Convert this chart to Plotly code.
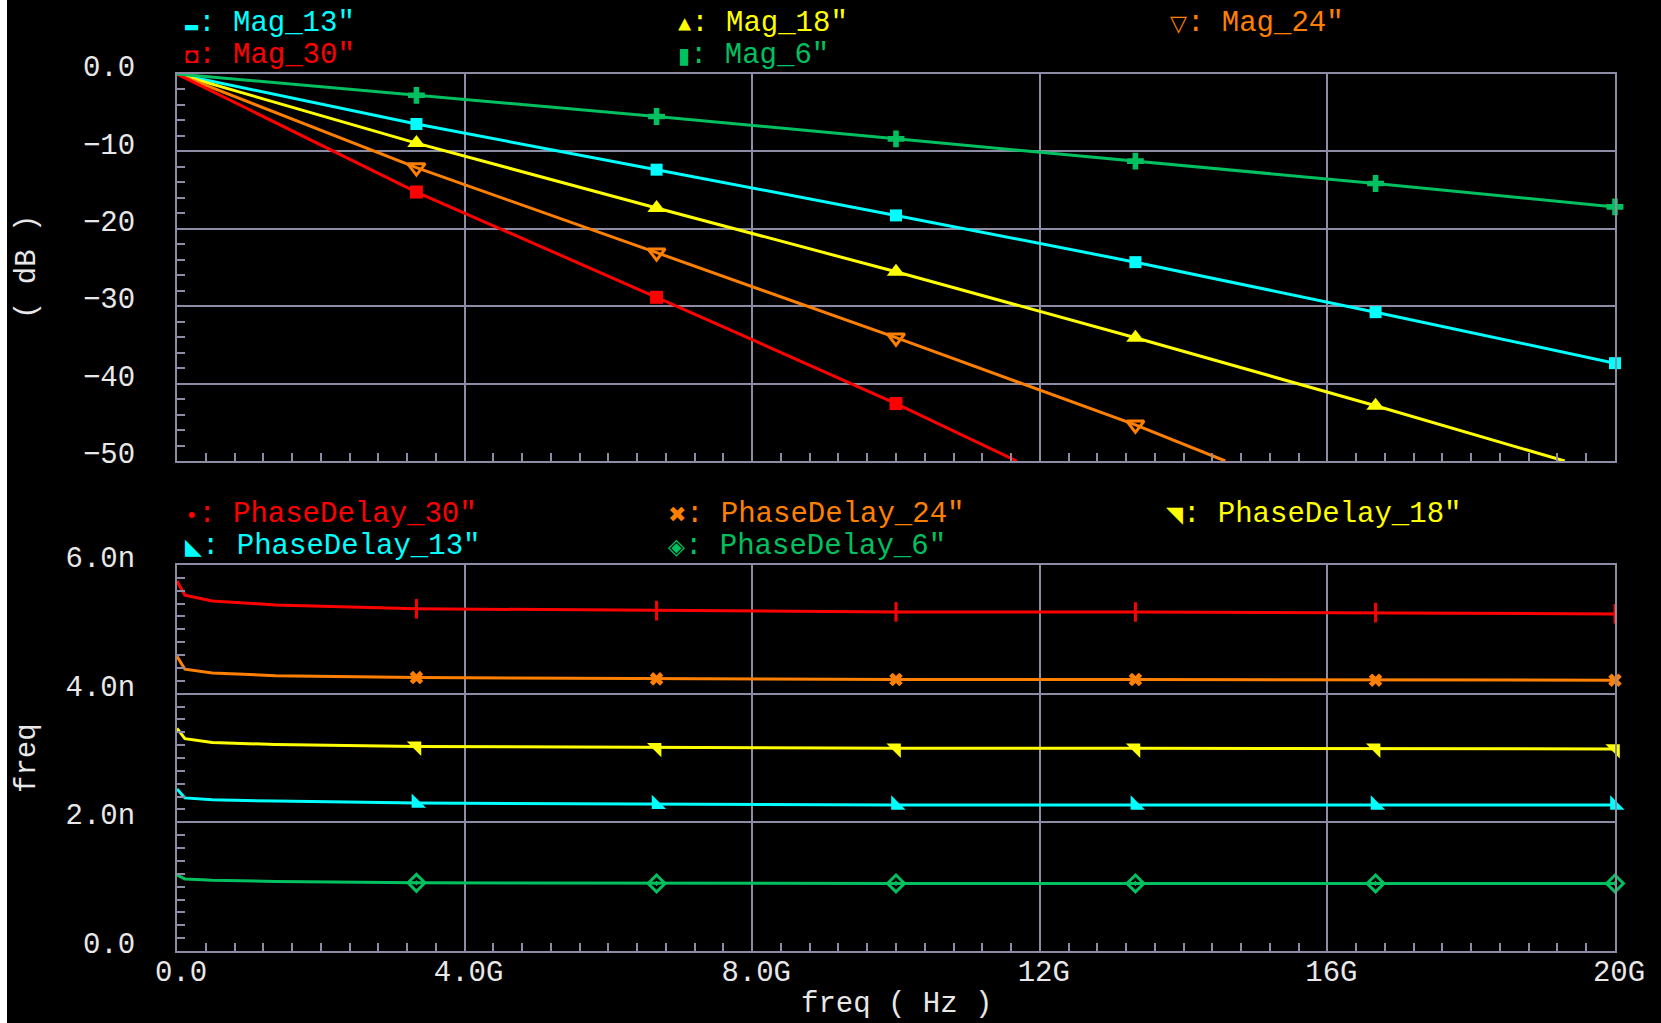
import plotly.graph_objects as go

W, H = 1661, 1023
FONT = "Liberation Mono"

# ---- magnitude sweep (dB vs GHz) ----
marker_freq = [3.33, 6.67, 10.0, 13.33, 16.67, 20.0]

mag_13_freq = [0, 3.33, 6.67, 10.0, 13.33, 16.67, 20.0]
mag_13 = [0, -6.46, -12.36, -18.27, -24.31, -30.77, -37.36]

mag_18_freq = [0, 3.33, 6.67, 10.0, 13.33, 16.67, 19.30]
mag_18 = [0, -8.93, -17.31, -25.55, -34.07, -42.86, -50.0]

mag_24_freq = [0, 3.33, 6.67, 10.0, 13.33, 14.58]
mag_24 = [0, -12.09, -23.08, -34.07, -45.33, -50.0]

mag_30_freq = [0, 3.33, 6.67, 10.0, 11.68]
mag_30 = [0, -15.25, -28.85, -42.58, -50.0]

mag_6_freq = [0, 3.33, 6.67, 10.0, 13.33, 16.67, 20.0]
mag_6 = [0, -2.75, -5.49, -8.38, -11.26, -14.15, -17.17]

# ---- phase delay (ns vs GHz) ----
pd_freq = [0, 0.11, 0.49, 1.37, 3.33, 6.67, 10.0, 13.33, 16.67, 20.0]
pd_30 = [5.75, 5.53, 5.44, 5.38, 5.32, 5.29, 5.27, 5.27, 5.26, 5.24]
pd_24 = [4.58, 4.38, 4.32, 4.28, 4.25, 4.23, 4.22, 4.22, 4.21, 4.21]
pd_18 = [3.46, 3.30, 3.24, 3.21, 3.18, 3.16, 3.15, 3.15, 3.15, 3.14]
pd_13 = [2.52, 2.38, 2.35, 2.33, 2.30, 2.28, 2.27, 2.27, 2.27, 2.27]
pd_6 = [1.18, 1.12, 1.10, 1.08, 1.06, 1.05, 1.05, 1.05, 1.05, 1.05]

# ---- axis ticks ----
freq_ticks = [0, 4, 8, 12, 16, 20]
freq_tick_text = ["0.0", "4.0G", "8.0G", "12G", "16G", "20G"]
mag_ticks = [0, -10, -20, -30, -40, -50]
mag_tick_text = ["0.0", "\u221210", "\u221220", "\u221230", "\u221240", "\u221250"]
pd_ticks = [0, 2, 4, 6]
pd_tick_text = ["0.0", "2.0n", "4.0n", "6.0n"]

CYAN = "#00ffff"
YELLOW = "#ffff00"
ORANGE = "#ff8000"
RED = "#ff0000"
GREEN = "#00c060"
GRID = "rgb(140,140,165)"
TEXT = "#e8e8e8"


def pick_markers(freqs, vals):
    xs, ys = [], []
    for f, v in zip(freqs, vals):
        if f in marker_freq:
            xs.append(f)
            ys.append(v)
    return xs, ys


fig = go.Figure()
legend_notes = []


def add_series(freqs, vals, name, color, symbol, size, xa, ya,
               glyph, lx, ly, open_symbol=False):
    fig.add_trace(go.Scatter(
        x=freqs, y=vals, mode="lines", xaxis=xa, yaxis=ya, name=name,
        line=dict(color=color, width=3), showlegend=False, hoverinfo="skip"))
    mx, my = pick_markers(freqs, vals)
    marker = dict(symbol=symbol, size=size, color=color,
                  line=dict(color=color, width=3 if open_symbol else 0))
    fig.add_trace(go.Scatter(
        x=mx, y=my, mode="markers", xaxis=xa, yaxis=ya, marker=marker,
        name=name, showlegend=False, cliponaxis=False))
    # legend entry: marker glyph, colon and series name in the series colour
    legend_notes.append(dict(
        text=(f'<span style="font-size:22px">{glyph}</span>'
              f'<span style="font-size:29px">: {name}</span>'),
        x=lx / W, y=1 - ly / H, xref="paper", yref="paper",
        xanchor="left", yanchor="middle", showarrow=False,
        font=dict(family=FONT, size=29, color=color)))


# top panel
add_series(mag_13_freq, mag_13, 'Mag_13"', CYAN, "square", 12, "x", "y",
           "\u25ac", 183, 24)
add_series(mag_18_freq, mag_18, 'Mag_18"', YELLOW, "triangle-up", 16, "x", "y",
           "\u25b2", 676, 24)
add_series(mag_24_freq, mag_24, 'Mag_24"', ORANGE, "triangle-down-open", 15,
           "x", "y", "\u25bd", 1168, 24, True)
add_series(mag_30_freq, mag_30, 'Mag_30"', RED, "square", 13, "x", "y",
           "\u25d8", 183, 56)
add_series(mag_6_freq, mag_6, 'Mag_6"', GREEN, "cross", 14, "x", "y",
           "\u25ae", 676, 56)

# bottom panel
add_series(pd_freq, pd_30, 'PhaseDelay_30"', RED, "line-ns-open", 14,
           "x2", "y2", "\u2022", 183, 514, True)
add_series(pd_freq, pd_24, 'PhaseDelay_24"', ORANGE, "x", 12, "x2", "y2",
           "\u2716", 666, 514)
add_series(pd_freq, pd_18, 'PhaseDelay_18"', YELLOW, "triangle-ne", 16,
           "x2", "y2", "\u25e5", 1164, 514)
add_series(pd_freq, pd_13, 'PhaseDelay_13"', CYAN, "triangle-sw", 16,
           "x2", "y2", "\u25e3", 183, 546)
add_series(pd_freq, pd_6, 'PhaseDelay_6"', GREEN, "diamond-open-dot", 13,
           "x2", "y2", "\u25c8", 666, 546, True)

x_dom = [177 / W, 1615 / W]
top_dom = [1 - 461 / H, 1 - 74 / H]
bot_dom = [1 - 951 / H, 1 - 565 / H]

common_x = dict(
    range=[0, 20], tickvals=freq_ticks, ticktext=freq_tick_text,
    showgrid=True, gridcolor=GRID, gridwidth=2,
    showline=True, linecolor=GRID, linewidth=2, mirror=True,
    ticks="inside", ticklen=8, tickcolor=GRID, tickwidth=2,
    minor=dict(ticks="inside", dtick=0.4, ticklen=8, tickcolor=GRID,
               tickwidth=2, showgrid=False),
    zeroline=False, tickfont=dict(family=FONT, size=29, color=TEXT),
    fixedrange=True, automargin=False,
)
common_y = dict(
    showgrid=True, gridcolor=GRID, gridwidth=2,
    showline=True, linecolor=GRID, linewidth=2, mirror=True,
    ticks="inside", ticklen=8, tickcolor=GRID, tickwidth=2,
    zeroline=False, tickfont=dict(family=FONT, size=29, color=TEXT),
    ticklabelstandoff=34, ticklabelshift=-8, fixedrange=True,
    automargin=False,
)

fig.update_layout(
    width=W, height=H, autosize=False,
    margin=dict(l=0, r=0, t=0, b=0, autoexpand=False),
    paper_bgcolor="black", plot_bgcolor="black",
    showlegend=False,
    xaxis=dict(common_x, domain=x_dom, anchor="y", showticklabels=False),
    yaxis=dict(common_y, domain=top_dom, anchor="x", range=[-50, 0],
               tickvals=mag_ticks, ticktext=mag_tick_text,
               minor=dict(ticks="inside", dtick=2, ticklen=8, tickcolor=GRID,
                          tickwidth=2, showgrid=False)),
    xaxis2=dict(common_x, domain=x_dom, anchor="y2", showticklabels=True,
                ticklabelstandoff=-7, ticklabelshift=4),
    yaxis2=dict(common_y, domain=bot_dom, anchor="x2", range=[0, 6],
                tickvals=pd_ticks, ticktext=pd_tick_text,
                minor=dict(ticks="inside", dtick=0.2, ticklen=8,
                           tickcolor=GRID, tickwidth=2, showgrid=False)),
    annotations=legend_notes + [
        dict(text="( dB )", x=27 / W, y=1 - 267 / H, xref="paper",
             yref="paper", xanchor="center", yanchor="middle",
             showarrow=False, textangle=-90,
             font=dict(family=FONT, size=29, color=TEXT)),
        dict(text="freq", x=27 / W, y=1 - 758 / H, xref="paper",
             yref="paper", xanchor="center", yanchor="middle",
             showarrow=False, textangle=-90,
             font=dict(family=FONT, size=29, color=TEXT)),
        dict(text="freq ( Hz )", x=896 / W, y=1 - 1004 / H, xref="paper",
             yref="paper", xanchor="center", yanchor="middle",
             showarrow=False,
             font=dict(family=FONT, size=29, color=TEXT)),
    ],
    shapes=[
        dict(type="rect", xref="paper", yref="paper", x0=0, x1=7 / W,
             y0=0, y1=1, fillcolor="white", line=dict(width=0)),
    ],
)

fig.write_html("out.html")
